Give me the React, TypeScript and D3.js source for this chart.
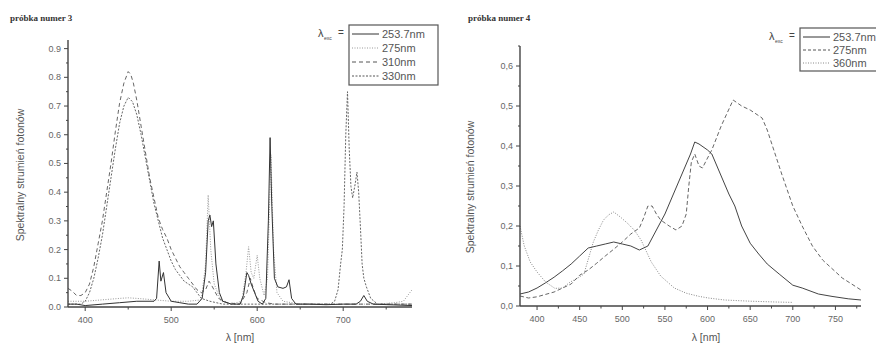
import React from "react";
import * as d3 from "d3";

// ---------- Data: left chart (próbka numer 3) ----------
const L_253_x = [380,390,400,420,440,460,480,483,486,488,491,494,500,510,520,530,536,540,543,545,547,549,552,556,560,570,580,584,588,590,593,597,601,606,610,613,615,617,620,624,630,634,637,640,645,660,680,700,715,720,724,728,735,780];
const L_253_y = [0.01,0.01,0.005,0.01,0.015,0.02,0.02,0.03,0.16,0.09,0.12,0.05,0.02,0.015,0.01,0.01,0.03,0.12,0.3,0.32,0.28,0.3,0.15,0.05,0.02,0.01,0.01,0.04,0.12,0.11,0.08,0.05,0.02,0.01,0.03,0.3,0.59,0.35,0.1,0.07,0.065,0.07,0.095,0.03,0.01,0.01,0.008,0.01,0.01,0.02,0.04,0.02,0.01,0.005];

const L_275_x = [380,400,420,440,450,460,480,500,520,535,540,543,546,550,558,570,582,587,590,593,596,600,603,608,612,616,619,623,630,650,700,740,760,770,780];
const L_275_y = [0.02,0.02,0.025,0.03,0.032,0.03,0.025,0.02,0.02,0.025,0.15,0.39,0.2,0.08,0.02,0.01,0.02,0.12,0.21,0.12,0.1,0.18,0.1,0.04,0.1,0.53,0.2,0.05,0.02,0.01,0.01,0.01,0.015,0.02,0.06];

const L_310_x = [380,385,390,395,400,405,410,415,420,425,430,435,440,445,450,453,456,460,465,470,475,480,485,490,495,500,505,510,515,520,525,530,535,540,544,548,555,565,580,588,592,596,600,610,620,650,700,780];
const L_310_y = [0.065,0.055,0.04,0.04,0.05,0.08,0.14,0.22,0.3,0.4,0.5,0.61,0.71,0.78,0.82,0.81,0.78,0.72,0.63,0.54,0.45,0.38,0.31,0.27,0.24,0.2,0.17,0.14,0.12,0.1,0.08,0.06,0.05,0.06,0.09,0.07,0.03,0.015,0.01,0.05,0.1,0.06,0.03,0.015,0.01,0.01,0.01,0.01];

const L_330_x = [380,395,400,405,410,415,420,425,430,435,440,445,450,455,460,465,470,475,480,485,490,495,500,505,510,515,520,525,530,535,545,560,600,650,685,690,694,697,699,701,703,705,707,709,711,714,716,718,720,722,724,727,732,740,780];
const L_330_y = [0.01,0.01,0.02,0.05,0.1,0.17,0.25,0.35,0.45,0.55,0.64,0.7,0.73,0.715,0.67,0.6,0.52,0.44,0.36,0.3,0.24,0.2,0.16,0.13,0.11,0.09,0.08,0.07,0.05,0.03,0.02,0.01,0.01,0.01,0.01,0.02,0.06,0.15,0.2,0.35,0.6,0.75,0.55,0.42,0.38,0.43,0.47,0.4,0.28,0.15,0.1,0.07,0.03,0.01,0.01];

const L_xTicks = [400, 500, 600, 700];
const L_xMinor = [450, 550, 650, 750];
const L_yTicks = [0, 0.1, 0.2, 0.3, 0.4, 0.5, 0.6, 0.7, 0.8, 0.9];
const L_legend = ["253.7nm", "275nm", "310nm", "330nm"];

// ---------- Data: right chart (próbka numer 4) ----------
const R_253_x = [380,390,400,410,420,430,440,450,460,470,480,490,500,510,520,530,540,550,560,570,580,585,590,600,605,615,625,632,640,650,660,670,684,700,711,730,746,765,780];
const R_253_y = [0.03,0.035,0.045,0.058,0.072,0.088,0.105,0.125,0.145,0.15,0.155,0.16,0.155,0.15,0.14,0.15,0.19,0.23,0.28,0.33,0.38,0.41,0.405,0.39,0.38,0.33,0.28,0.25,0.2,0.157,0.13,0.105,0.08,0.052,0.045,0.03,0.024,0.018,0.015];

const R_275_x = [380,390,400,420,440,450,460,470,480,490,500,510,520,525,530,535,540,545,555,563,570,575,578,581,585,590,594,600,605,616,630,640,650,664,670,687,700,711,723,735,758,780];
const R_275_y = [0.025,0.02,0.023,0.035,0.055,0.077,0.09,0.107,0.125,0.142,0.16,0.18,0.195,0.22,0.25,0.25,0.23,0.215,0.2,0.19,0.2,0.23,0.3,0.36,0.38,0.35,0.345,0.37,0.39,0.45,0.515,0.5,0.49,0.47,0.44,0.33,0.25,0.2,0.15,0.115,0.07,0.04];

const R_360_x = [380,385,392,400,410,421,430,439,448,455,466,472,478,484,490,498,506,514,522,534,545,553,561,575,590,601,620,650,680,700];
const R_360_y = [0.2,0.15,0.11,0.085,0.06,0.044,0.045,0.06,0.07,0.08,0.16,0.19,0.215,0.228,0.235,0.222,0.207,0.19,0.165,0.11,0.075,0.06,0.045,0.032,0.024,0.02,0.015,0.012,0.01,0.009];

const R_xTicks = [400, 450, 500, 550, 600, 650, 700, 750];
const R_xMinor = [425, 475, 525, 575, 625, 675, 725, 775];
const R_yTicks = [0, 0.1, 0.2, 0.3, 0.4, 0.5, 0.6];
const R_legend = ["253.7nm", "275nm", "360nm"];

const FONT = "'Liberation Sans', Arial, sans-serif";
const AX = "#444";

type Series = { xs: number[]; ys: number[]; dash: string; color: string; width: number };

function Panel(props: {
  xRange: [number, number];
  yRange: [number, number];
  yMax: number;
  xTicks: number[];
  xMinor: number[];
  yTicks: number[];
  sep: string;
  series: Series[];
}) {
  const { xRange, yRange, yMax, xTicks, xMinor, yTicks, sep, series } = props;
  const x = d3.scaleLinear().domain([380, 780]).range(xRange);
  const y = d3.scaleLinear().domain([0, yMax]).range(yRange);
  const line = d3.line<[number, number]>().x((d) => x(d[0])).y((d) => y(d[1]));
  const yMinor: number[] = [];
  for (let v = 0.05; v < yMax + 1e-9; v += 0.1) yMinor.push(+v.toFixed(2));
  const fmt = (v: number) => v.toFixed(1).replace(".", sep);
  return (
    <g>
      {series.map((s, i) => (
        <path
          key={i}
          d={line(s.xs.map((xv, j) => [xv, s.ys[j]] as [number, number])) || ""}
          fill="none"
          stroke={s.color}
          strokeWidth={s.width}
          strokeDasharray={s.dash}
        />
      ))}
      <line x1={xRange[0]} x2={xRange[0]} y1={yRange[0]} y2={yRange[1]} stroke={AX} strokeWidth={1.4} />
      <line x1={xRange[0]} x2={xRange[1]} y1={yRange[0]} y2={yRange[0]} stroke={AX} strokeWidth={1.4} />
      {yTicks.map((v) => (
        <g key={"y" + v}>
          <line x1={xRange[0] - 4} x2={xRange[0]} y1={y(v)} y2={y(v)} stroke={AX} strokeWidth={1} />
          <text x={xRange[0] - 7} y={y(v) + 3} fontSize={9} fontFamily={FONT} fill="#666" textAnchor="end">
            {fmt(v)}
          </text>
        </g>
      ))}
      {yMinor.map((v) => (
        <line key={"ym" + v} x1={xRange[0] - 2} x2={xRange[0]} y1={y(v)} y2={y(v)} stroke={AX} strokeWidth={1} />
      ))}
      {xTicks.map((v) => (
        <g key={"x" + v}>
          <line x1={x(v)} x2={x(v)} y1={yRange[0]} y2={yRange[0] + 4} stroke={AX} strokeWidth={1} />
          <text x={x(v)} y={yRange[0] + 16} fontSize={9} fontFamily={FONT} fill="#666" textAnchor="middle">
            {v}
          </text>
        </g>
      ))}
      {xMinor.map((v) => (
        <line key={"xm" + v} x1={x(v)} x2={x(v)} y1={yRange[0]} y2={yRange[0] + 2.5} stroke={AX} strokeWidth={1} />
      ))}
    </g>
  );
}

function Legend(props: { x: number; y: number; w: number; rowH: number; labels: string[]; styles: { dash: string; color: string }[] }) {
  const { x, y, w, rowH, labels, styles } = props;
  const h = rowH * labels.length + 4;
  return (
    <g>
      <text x={x - 31} y={y + 12} fontSize={11} fontFamily={FONT} fill="#444">λ</text>
      <text x={x - 25} y={y + 15} fontSize={5} fontFamily={FONT} fill="#444">exc</text>
      <text x={x - 11} y={y + 11} fontSize={10} fontFamily={FONT} fill="#444">=</text>
      <rect x={x} y={y} width={w} height={h} fill="white" stroke="#555" strokeWidth={1.2} />
      {labels.map((lab, i) => (
        <g key={lab}>
          <line x1={x + 3} x2={x + 30} y1={y + 9 + i * rowH} y2={y + 9 + i * rowH} stroke={styles[i].color} strokeWidth={1} strokeDasharray={styles[i].dash} />
          <text x={x + 33} y={y + 13 + i * rowH} fontSize={11} fontFamily={FONT} fill="#555">{lab}</text>
        </g>
      ))}
    </g>
  );
}

export default function App() {
  const leftSeries: Series[] = [
    { xs: L_275_x, ys: L_275_y, dash: "1,1.5", color: "#999", width: 1 },
    { xs: L_310_x, ys: L_310_y, dash: "4,3", color: "#666", width: 1 },
    { xs: L_330_x, ys: L_330_y, dash: "2,1.5", color: "#666", width: 1 },
    { xs: L_253_x, ys: L_253_y, dash: "", color: "#333", width: 1 },
  ];
  const rightSeries: Series[] = [
    { xs: R_360_x, ys: R_360_y, dash: "1,1.5", color: "#888", width: 1 },
    { xs: R_275_x, ys: R_275_y, dash: "4,2.5", color: "#666", width: 1 },
    { xs: R_253_x, ys: R_253_y, dash: "", color: "#444", width: 1 },
  ];
  return (
    <svg width={876} height={346} style={{ position: "absolute", left: 0, top: 0, background: "white" }}>
      <rect width={876} height={346} fill="white" />
      <text x={10} y={21} fontSize={9} fontWeight="bold" fontFamily="'Liberation Serif', serif" fill="#333">próbka numer 3</text>
      <Panel xRange={[68, 412]} yRange={[307, 40]} yMax={0.93} xTicks={L_xTicks} xMinor={L_xMinor} yTicks={L_yTicks} sep="." series={leftSeries} />
      <text transform="translate(24,175) rotate(-90)" fontSize={10.5} fontFamily={FONT} fill="#555" textAnchor="middle">Spektralny strumień fotonów</text>
      <text x={240} y={341} fontSize={10.5} fontFamily={FONT} fill="#555" textAnchor="middle">λ [nm]</text>
      <Legend x={349} y={25} w={89} rowH={14} labels={L_legend} styles={[{ dash: "", color: "#333" }, { dash: "1,1.5", color: "#999" }, { dash: "4,3", color: "#555" }, { dash: "2,1.5", color: "#555" }]} />

      <text x={468} y={21} fontSize={9} fontWeight="bold" fontFamily="'Liberation Serif', serif" fill="#333">próbka numer 4</text>
      <Panel xRange={[520, 861]} yRange={[306, 46]} yMax={0.65} xTicks={R_xTicks} xMinor={R_xMinor} yTicks={R_yTicks} sep="," series={rightSeries} />
      <text transform="translate(474,187) rotate(-90)" fontSize={10.5} fontFamily={FONT} fill="#555" textAnchor="middle">Spektralny strumień fotonów</text>
      <text x={706} y={341} fontSize={10.5} fontFamily={FONT} fill="#555" textAnchor="middle">λ [nm]</text>
      <Legend x={800} y={28} w={90} rowH={13} labels={R_legend} styles={[{ dash: "", color: "#333" }, { dash: "3,2", color: "#555" }, { dash: "1,1.5", color: "#888" }]} />
    </svg>
  );
}
